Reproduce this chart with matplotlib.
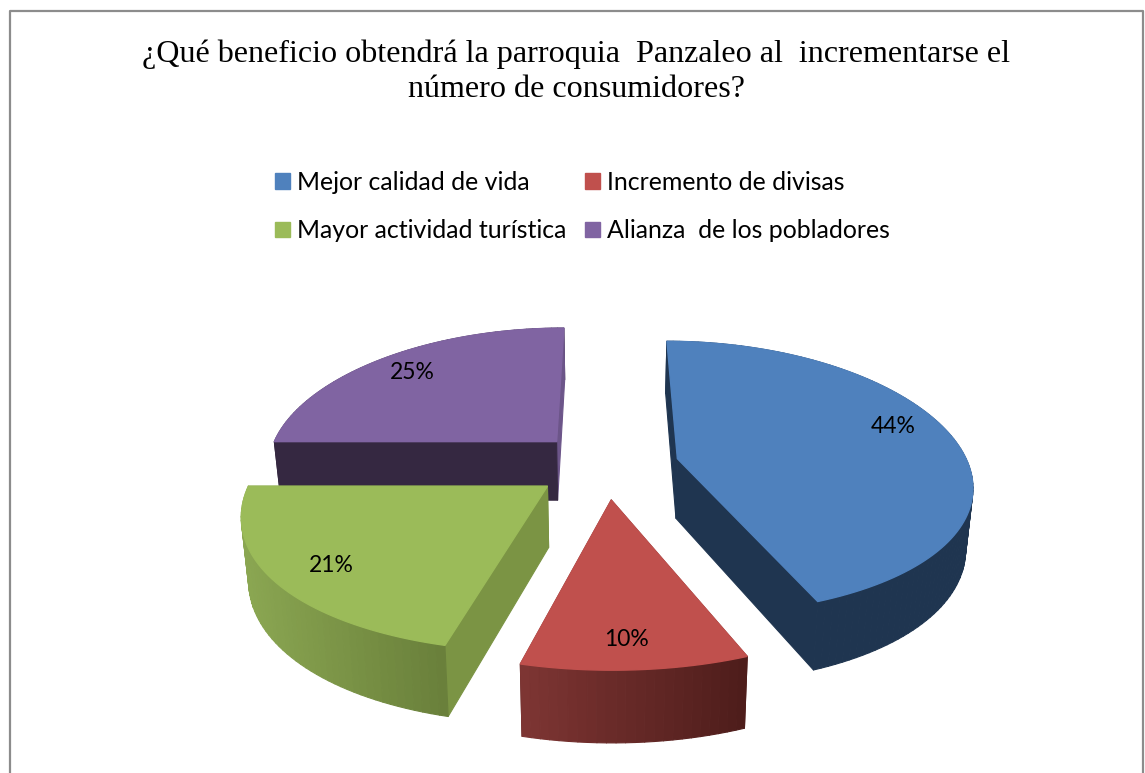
import numpy as np
import matplotlib
matplotlib.use("Agg")
import matplotlib.pyplot as plt
from matplotlib.patches import Patch, Polygon
from matplotlib.colors import to_rgb

# ---- data ----
categories = ["Mejor calidad de vida", "Incremento de divisas",
              "Mayor actividad turística", "Alianza  de los pobladores"]
values = [44, 10, 21, 25]
title = "¿Qué beneficio obtendrá la parroquia  Panzaleo al  incrementarse el\nnúmero de consumidores?"

# ---- styles ----
top_colors = ["#4F81BD", "#C0504D", "#9BBB59", "#8064A2"]
outer_left = ["#1F3550", "#7E3533", "#8BA752", "#352841"]
outer_right = ["#1F3550", "#4D1D1B", "#697F3A", "#352841"]
start_wall = ["#1F3550", "#5E2725", "#7B9444", "#352841"]
end_wall = ["#1F3550", "#5E2725", "#7B9444", "#6C5589"]
label_nudge = [(-3, -13), (-4, 8), (-3, 5), (-3, -1)]

# ---- projection of the tilted pie ----
CX, CY, RX, RY = 606.5, 465.0, 291.0, 135.5
PERSP_X, PERSP_Y = 0.175, 0.14
EXPLODE, DEPTH, SHRINK = 0.25, 60.0, 0.98


def project(u, v):
    return CX + RX * u / (1 + PERSP_X * v), CY - RY * v / (1 + PERSP_Y * v)


def project_low(u, v):
    x, y = project(u, v)
    return CX + (x - CX) * SHRINK, y + DEPTH / (1 + PERSP_Y * v)


fig = plt.figure(figsize=(11.45, 7.73), dpi=100)
ax = fig.add_axes([0, 0, 1, 1])
ax.set_xlim(0, 1145)
ax.set_ylim(773, 0)
ax.axis("off")

# chart frame (open at the bottom edge of the picture)
ax.plot([9.5, 9.5, 1143, 1143], [790, 11, 11, 790], color="#8C8C8C", lw=1.6)

total = float(sum(values))
edges = np.concatenate([[0], np.cumsum(values)]) / total * 2 * np.pi
draw_order = [3, 0, 2, 1]

for i in draw_order:
    a0, a1 = edges[i], edges[i + 1]
    mid = (a0 + a1) / 2
    ou, ov = EXPLODE * np.sin(mid), EXPLODE * np.cos(mid)
    ang = np.linspace(a0, a1, max(int((a1 - a0) * 40), 12))
    ru, rv = ou + np.sin(ang), ov + np.cos(ang)
    tx, ty = project(ru, rv)
    bx, by = project_low(ru, rv)
    ax0, ay0 = project(ou, ov)
    bx0, by0 = project_low(ou, ov)

    faces = []
    faces.append((np.mean([ov, rv[0]]), [(ax0, ay0), (tx[0], ty[0]), (bx[0], by[0]), (bx0, by0)], start_wall[i]))
    faces.append((np.mean([ov, rv[-1]]), [(ax0, ay0), (tx[-1], ty[-1]), (bx[-1], by[-1]), (bx0, by0)], end_wall[i]))
    left, right = np.array(to_rgb(outer_left[i])), np.array(to_rgb(outer_right[i]))
    xmin, xmax = tx.min(), tx.max()
    for k in range(len(ang) - 1):
        t = ((tx[k] + tx[k + 1]) / 2 - xmin) / (xmax - xmin)
        col = tuple(left + (right - left) * t)
        faces.append(((rv[k] + rv[k + 1]) / 2,
                      [(tx[k], ty[k]), (tx[k + 1], ty[k + 1]), (bx[k + 1], by[k + 1]), (bx[k], by[k])], col))
    for _, pts, col in sorted(faces, key=lambda f: -f[0]):
        ax.add_patch(Polygon(pts, closed=True, facecolor=col, edgecolor=col, lw=0.8, joinstyle="round"))

    top = [(ax0, ay0)] + list(zip(tx, ty))
    ax.add_patch(Polygon(top, closed=True, facecolor=top_colors[i], edgecolor=top_colors[i], lw=1.0))

    lu, lv = ou + 0.8 * np.sin(mid), ov + 0.8 * np.cos(mid)
    lx, ly = project(lu, lv)
    ax.text(lx + label_nudge[i][0], ly + label_nudge[i][1], f"{values[i]}%",
            ha="center", va="center", family="Lato", fontsize=16.5, color="black", zorder=5)

ax.text(576, 72, title, ha="center", va="center", family="Liberation Serif",
        fontsize=23.1, color="black", linespacing=1.265)

handles = [Patch(facecolor=c, edgecolor=c) for c in top_colors]
order = [0, 2, 1, 3]
leg = ax.legend([handles[j] for j in order], [categories[j] for j in order],
                ncol=2, loc="upper left", bbox_to_anchor=(275, 171), bbox_transform=ax.transData,
                frameon=False, borderpad=0, borderaxespad=0, prop={"family": "Lato", "size": 17.9},
                handlelength=0.6, handleheight=0.6, handletextpad=0.28,
                columnspacing=0.76, labelspacing=1.02)

fig.savefig("out.png", dpi=100)
